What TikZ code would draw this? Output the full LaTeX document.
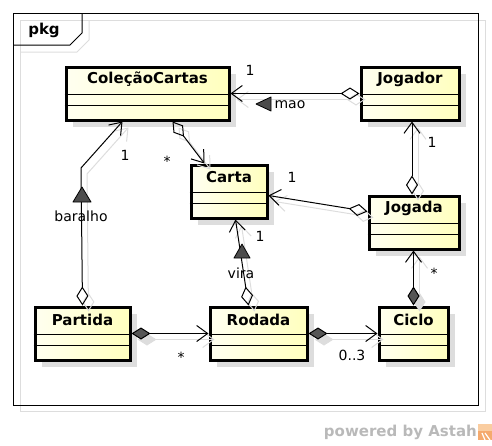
\documentclass[tikz,border=0pt]{standalone}
\usepackage{fontspec}
\setmainfont{DejaVu Sans}
\usetikzlibrary{arrows.meta,shadows,calc}
\definecolor{clsY}{RGB}{255,255,190}
\definecolor{clsW}{RGB}{255,255,240}
\definecolor{shd}{RGB}{221,221,221}
\definecolor{dfill}{RGB}{85,85,85}
\definecolor{astah}{RGB}{185,185,185}
\definecolor{logoA}{RGB}{245,170,110}
\definecolor{logoB}{RGB}{250,205,160}
\tikzset{
  cls/.style={draw=black, line width=3pt, left color=clsW, right color=clsY, inner sep=0pt,
    drop shadow={shadow xshift=7pt, shadow yshift=-7pt, fill=shd, opacity=1}},
  cmp/.style={line width=1pt},
  clsname/.style={font=\bfseries\fontsize{15}{18}\selectfont, inner sep=0pt},
  lbl/.style={font=\fontsize{14}{17}\selectfont, inner sep=0pt},
  conn/.style={line width=1pt},
  agg/.style={conn, arrows={Diamond[open,length=19pt,width=12pt]-Straight Barb[length=11pt,width=16pt]}},
  comp/.style={conn, arrows={Diamond[fill=dfill,length=19pt,width=12pt]-Straight Barb[length=11pt,width=16pt]}},
  tri/.style={fill=black!70, draw=black, line width=0.8pt, line join=round},
  frameline/.style={line width=1pt},
}
\newcommand\umlclass[6]{%
  \node[cls, anchor=north west, minimum width=#4-#2, minimum height=#5-#3] (#1) at (#2,#3) {};
  \draw[cmp] ([yshift=-28.5pt]#1.north west) -- ([yshift=-28.5pt]#1.north east);
  \draw[cmp] ([yshift=-39.5pt]#1.north west) -- ([yshift=-39.5pt]#1.north east);
  \node[clsname] (#1-name) at ([yshift=-14pt]#1.north) {#6};
}
\newcommand\uconn[2]{%
  \begin{scope}[transform canvas={shift={(6pt,-6pt)}}, color=shd]
    \colorlet{dfill}{shd}
    \draw[#1] #2;
  \end{scope}
  \draw[#1] #2;
}
\begin{document}
\begin{tikzpicture}[x=1pt,y=-1pt]
\useasboundingbox (0,0) rectangle (492,445);
% frame
\draw[frameline, shd] (20,20) rectangle (485,411);
\draw[frameline, shd] (20,52) -- (77,52) -- (89,40) -- (89,20);
\draw[frameline] (13,13) rectangle (478,405);
\draw[frameline] (13,45) -- (70,45) -- (82,33) -- (82,13);
\node[clsname] (pkg) at (44,30) {pkg};
% classes
\umlclass{cc}{64.5}{65.5}{227.5}{118.5}{ColeçãoCartas}
\umlclass{jogador}{359.5}{65.5}{457.5}{118.5}{Jogador}
\umlclass{carta}{189.5}{163.5}{265.5}{216.5}{Carta}
\umlclass{jogada}{367.5}{194.5}{457.5}{247.5}{Jogada}
\umlclass{partida}{33.5}{305.5}{128.5}{358.5}{Partida}
\umlclass{rodada}{208.5}{305.5}{305.5}{358.5}{Rodada}
\umlclass{ciclo}{377.5}{305.5}{446.5}{358.5}{Ciclo}
% connectors
\coordinate (bend) at (81,168);
\uconn{agg}{(jogador.west) -- (cc.east)}
\uconn{agg}{([xshift=-2pt]jogada.north) -- ([xshift=2pt]jogador.south)}
\uconn{agg}{([yshift=-17pt]jogada.north west) -- ([yshift=-32pt]carta.north east)}
\uconn{comp}{(ciclo.north) -- (ciclo.north |- jogada.south)}
\uconn{comp}{(rodada.east) -- (rodada.east -| ciclo.west)}
\uconn{comp}{(partida.east) -- (rodada.west)}
\uconn{agg}{([xshift=40pt]rodada.north west) -- ([xshift=46pt]carta.south west)}
\uconn{agg}{(partida.north) -- (bend) -- ([xshift=58pt]cc.south west)}
\uconn{agg}{([xshift=108pt]cc.south west) -- ([xshift=15pt]carta.north west)}
% labels
\node[lbl] (l1) at (250,70) {1};
\draw[tri] (256,104) -- (271,97) -- (271,111) -- cycle;
\node[lbl] (lmao) at (290,105) {mao};
\node[lbl] (l2) at (432,142) {1};
\node[lbl] (l3) at (292,177) {1};
\node[lbl] (l4) at (434,273) {*};
\node[lbl] (l5) at (352,355) {0..3};
\node[lbl] (l6) at (181,357) {*};
\node[lbl] (l7) at (260,236) {1};
\draw[tri] (242,244) -- (250,258) -- (234,258) -- cycle;
\node[lbl] (lvira) at (241,273) {vira};
\node[lbl] (l8) at (125,155) {1};
\draw[tri] (82,187) -- (91,202) -- (73,202) -- cycle;
\node[lbl] (lbar) at (81,216) {baralho};
\node[lbl] (l9) at (167,161) {*};
% footer
\node[font=\bfseries\fontsize{15}{18}\selectfont, text=astah, inner sep=0pt, anchor=east] (pw) at (477,432) {powered by Astah};
\fill[logoA] (478,424) rectangle (492,440);
\fill[logoB] (478,424) rectangle (492,431);
\draw[white, line width=1.2pt] (482,433) -- (485,440) (485,433) -- (490,440);
\end{tikzpicture}
\end{document}
